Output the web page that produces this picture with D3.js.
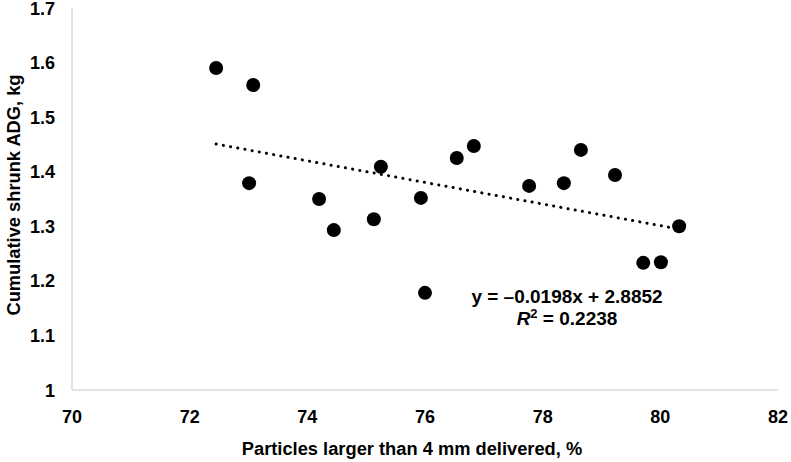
<!DOCTYPE html>
<html>
<head>
<meta charset="utf-8">
<script src="https://cdn.jsdelivr.net/npm/d3@7"></script>
<style>
  body { margin: 0; background: #fff; }
  text { font-family: "Liberation Sans", Arial, sans-serif; font-weight: bold; fill: #000; }
</style>
</head>
<body>
<script>
//data
var particles = [72.45, 73.08, 73.01, 74.20, 74.45, 75.13, 75.25, 75.93, 76.00, 76.54, 76.83, 77.77, 78.36, 78.65, 79.23, 79.71, 80.01, 80.32];
var adg = [1.590, 1.559, 1.379, 1.350, 1.293, 1.313, 1.409, 1.352, 1.178, 1.425, 1.447, 1.374, 1.379, 1.440, 1.394, 1.233, 1.234, 1.300];
var xTicks = [70, 72, 74, 76, 78, 80, 82];
var yTicks = [1, 1.1, 1.2, 1.3, 1.4, 1.5, 1.6, 1.7];
var slope = -0.0198, intercept = 2.8852, r2 = '0.2238';

var width = 791, height = 462;

var svg = d3.select('body').append('svg')
  .attr('width', width)
  .attr('height', height);

var x = d3.scaleLinear().domain([70, 82]).range([72, 778]);
var y = d3.scaleLinear().domain([1, 1.7]).range([390, 8]);

//axis lines
svg.append('line')
  .attr('x1', x(70)).attr('x2', x(70))
  .attr('y1', y(1.7)).attr('y2', y(1))
  .attr('stroke', '#c8c8c8').attr('stroke-width', 1);
svg.append('line')
  .attr('x1', x(70)).attr('x2', x(82))
  .attr('y1', y(1)).attr('y2', y(1))
  .attr('stroke', '#c8c8c8').attr('stroke-width', 1);

//tick labels
svg.selectAll('.ytick').data(yTicks).enter().append('text')
  .attr('class', 'ytick')
  .attr('x', 55)
  .attr('y', function(d) { return y(d) + 6.5; })
  .attr('text-anchor', 'end')
  .style('font-size', '18px')
  .text(function(d) { return d3.format('~g')(d); });

svg.selectAll('.xtick').data(xTicks).enter().append('text')
  .attr('class', 'xtick')
  .attr('x', function(d) { return x(d); })
  .attr('y', 423)
  .attr('text-anchor', 'middle')
  .style('font-size', '18px')
  .text(function(d) { return d; });

//axis titles
svg.append('text')
  .attr('x', 412).attr('y', 455)
  .attr('text-anchor', 'middle')
  .style('font-size', '18.3px')
  .text('Particles larger than 4 mm delivered, %');

svg.append('text')
  .attr('transform', 'translate(20,195) rotate(-90)')
  .attr('text-anchor', 'middle')
  .style('font-size', '18.3px')
  .text('Cumulative shrunk ADG, kg');

//trend line
var x0 = d3.min(particles), x1 = d3.max(particles);
svg.append('line')
  .attr('x1', x(x0)).attr('y1', y(slope * x0 + intercept))
  .attr('x2', x(x1)).attr('y2', y(slope * x1 + intercept))
  .attr('stroke', '#000')
  .attr('stroke-width', 3)
  .attr('stroke-linecap', 'round')
  .attr('stroke-dasharray', '0.1 7.2');

//points
svg.selectAll('circle').data(particles).enter().append('circle')
  .attr('cx', function(d) { return x(d); })
  .attr('cy', function(d, i) { return y(adg[i]); })
  .attr('r', 7)
  .attr('fill', '#000');

//equation
svg.append('text')
  .attr('x', 567).attr('y', 303)
  .attr('text-anchor', 'middle')
  .style('font-size', '19px')
  .text('y = \u20130.0198x + 2.8852');

var r = svg.append('text')
  .attr('x', 567).attr('y', 325)
  .attr('text-anchor', 'middle')
  .style('font-size', '19px');
r.append('tspan').style('font-style', 'italic').text('R');
r.append('tspan').attr('dy', -7).style('font-size', '13px').text('2');
r.append('tspan').attr('dy', 7).text(' = ' + r2);
</script>
</body>
</html>
